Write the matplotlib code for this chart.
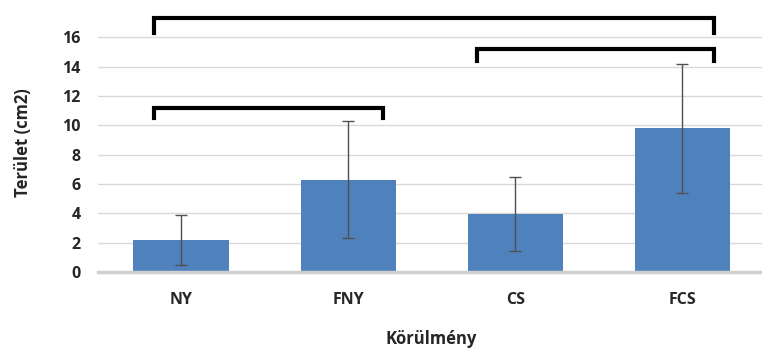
import matplotlib
matplotlib.use('Agg')
import matplotlib.pyplot as plt
import numpy as np

# values
categories = ['NY', 'FNY', 'CS', 'FCS']
means = [2.2, 6.3, 3.95, 9.8]
errors = [1.7, 4.0, 2.5, 4.4]

# significance brackets: (x start, x end, top, tip)
brackets = [(-0.16, 3.19, 17.3, 16.3),
            (-0.16, 1.21, 11.2, 10.5),
            (1.77, 3.19, 15.2, 14.4)]

plt.rcParams['font.family'] = ['Open Sans', 'DejaVu Sans']

fig = plt.figure(figsize=(7.62, 3.49), dpi=100)
ax = fig.add_axes([0.128, 0.22, 0.877, 0.741])

x = np.arange(len(categories))
ax.bar(x, means, width=0.57, color='#4F81BD', zorder=2)
ax.errorbar(x, means, yerr=errors, fmt='none', ecolor='#505050',
            elinewidth=1.0, capsize=4.5, capthick=1.0, zorder=3)

for x0, x1, top, tip in brackets:
    ax.plot([x0, x0, x1, x1], [tip, top, top, tip], color='black',
            linewidth=3, solid_joinstyle='miter', clip_on=False, zorder=4)

ax.set_xlim(-0.5, 3.5)
ax.set_ylim(0, 17.6)
ax.set_yticks(range(0, 17, 2))
ax.set_xticks(x)
ax.set_xticklabels(categories)
ax.yaxis.grid(True, color='#D9D9D9', linewidth=1)
ax.set_axisbelow(True)

for side in ['top', 'right', 'left']:
    ax.spines[side].set_visible(False)
ax.spines['bottom'].set_color('#D0D0D0')
ax.spines['bottom'].set_linewidth(2.5)
ax.tick_params(length=0)
ax.tick_params(axis='y', pad=12)
ax.tick_params(axis='x', pad=14)

for lab in ax.get_xticklabels() + ax.get_yticklabels():
    lab.set_fontweight('bold')
    lab.set_fontsize(11.5)
    lab.set_color('#262626')

ax.set_xlabel('Körülmény', fontsize=12, fontweight='bold', color='#262626', labelpad=16)
ax.set_ylabel('Terület (cm2)', fontsize=12, fontweight='bold', color='#262626', labelpad=22)

fig.savefig('out.png', dpi=100)
